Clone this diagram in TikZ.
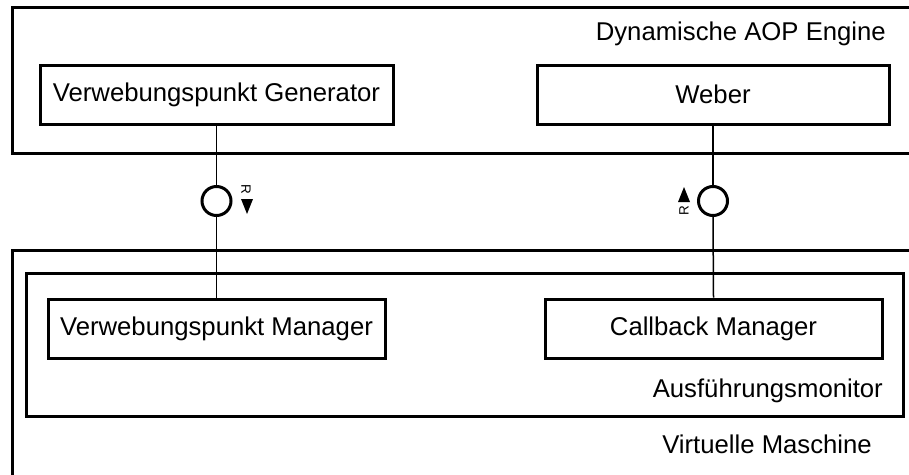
\documentclass[tikz,border=0pt]{standalone}
\usepackage{fontspec}
\setmainfont{Liberation Sans}
\begin{document}
\begin{tikzpicture}[x=1pt,y=-1pt,
  box/.style={draw,line width=3pt,minimum height=59pt,inner sep=0pt,font=\fontsize{25.7}{30}\selectfont},
  frame/.style={draw,line width=3pt},
  lbl/.style={inner sep=0pt,anchor=base east,font=\fontsize{25.7}{30}\selectfont},
  wire/.style={line width=1.5pt},
  iface/.style={circle,draw,line width=3pt,minimum size=29pt,inner sep=0pt,fill=white},
  rlbl/.style={inner sep=0pt,font=\fontsize{13.5}{15}\selectfont}]
\useasboundingbox (0,0) rectangle (909,474);
\clip (0,0) rectangle (909,474);
\fill[white] (0,0) rectangle (909,474);
% containers
\draw[frame] (12,7) rectangle (925,153);
\draw[frame] (12,250) rectangle (925,490);
\draw[frame] (26,273) rectangle (903,416);
\node[lbl] (engine) at (886,40) {Dynamische AOP Engine};
\node[lbl] (monitor) at (883,397) {Ausführungsmonitor};
\node[lbl] (vm) at (872,453) {Virtuelle Maschine};
% boxes
\node[box,minimum width=353pt] (gen) at (216.5,94.5) {Verwebungspunkt Generator};
\node[box,minimum width=352pt] (weber) at (713,94.5) {Weber};
\node[box,minimum width=337pt] (mgr) at (216.5,328.5) {Verwebungspunkt Manager};
\node[box,minimum width=337pt] (cb) at (713.5,328.5) {Callback Manager};
% interfaces
\node[iface] (ifL) at (216.5,201) {};
\node[iface] (ifR) at (713,201) {};
\draw[wire] (gen.south) -- (ifL.north);
\draw[wire] (ifL.south) -- (mgr.north);
\draw[wire] (weber.south) -- (ifR.north);
\draw[wire] (ifR.south) -- (cb.north);
% direction markers
\fill (241,199) -- (253,199) -- (247,214) -- cycle;
\node[rlbl,rotate=-90] (rL) at (246,189) {R};
\fill (678,202) -- (690,202) -- (684,187) -- cycle;
\node[rlbl,rotate=90] (rR) at (684,211) {R};
\end{tikzpicture}
\end{document}
